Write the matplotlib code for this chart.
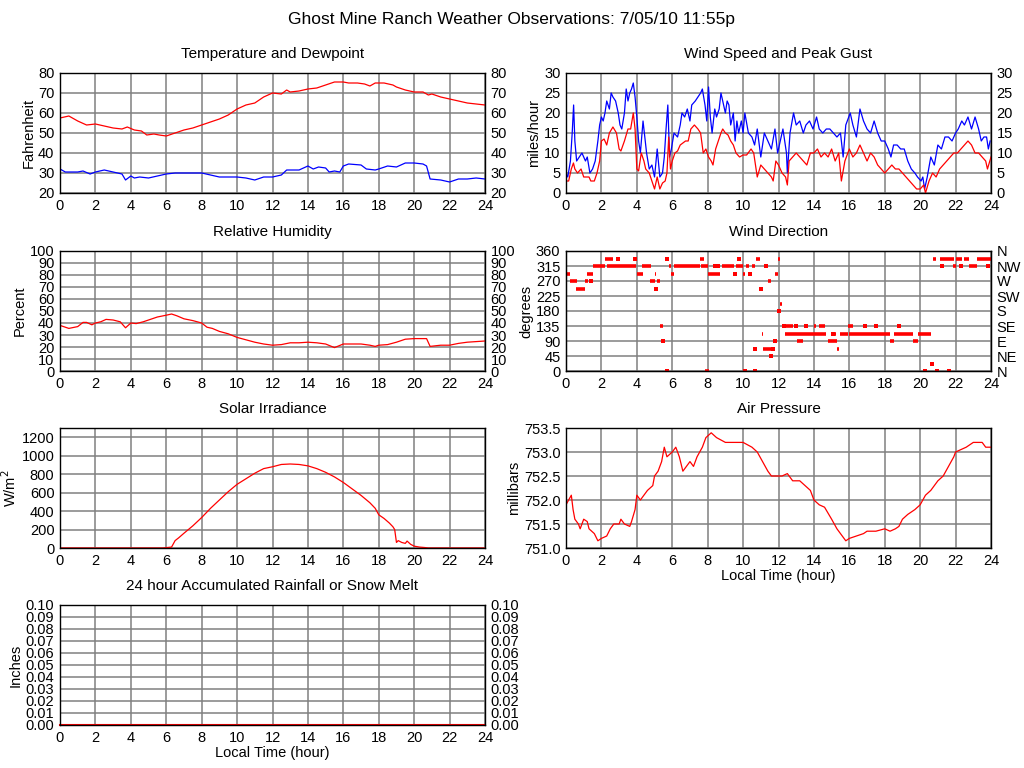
import numpy as np
import matplotlib
matplotlib.use("Agg")
import matplotlib.pyplot as plt

plt.rcParams['font.family'] = ['Liberation Sans', 'DejaVu Sans']
plt.rcParams['font.size'] = 10.5

hours = [0, 2, 4, 6, 8, 10, 12, 14, 16, 18, 20, 22, 24]

# temperature / dewpoint (F)
temp_t = [0, 0.5, 1.0, 1.5, 2.0, 2.5, 3.0, 3.5, 3.8, 4.2, 4.6, 4.9, 5.3, 5.6, 6.0, 6.5, 7.0, 7.5,
          8.0, 8.5, 9.0, 9.5, 10.0, 10.5, 11.0, 11.5, 12.0, 12.5, 12.8, 13.0, 13.5, 14.0, 14.5,
          15.0, 15.5, 16.0, 16.3, 16.8, 17.2, 17.5, 17.8, 18.3, 18.8, 19.0, 19.5, 20.0, 20.5,
          20.8, 21.0, 21.5, 22.0, 22.5, 23.0, 23.5, 24.0]
temp_v = [57.5, 58.5, 56, 54, 54.5, 53.5, 52.5, 52, 53, 51.5, 51, 49, 49.5, 49, 48.5, 50, 51.5, 52.5,
          54, 55.5, 57, 59, 62, 64, 65, 68, 70, 69.5, 71.5, 70.5, 71, 72, 72.5,
          74, 75.5, 75.5, 75, 75, 74.5, 73.5, 75, 75, 74, 73, 71.5, 70.5, 70.5,
          69, 69.5, 68, 67, 66, 65, 64.5, 64]
dew_t = [0, 0.3, 1.0, 1.3, 1.7, 2.0, 2.5, 3.0, 3.5, 3.7, 4.0, 4.2, 4.5, 5.0, 5.5, 6.0, 6.5, 7.0,
         7.5, 8.0, 8.5, 9.0, 9.5, 10.0, 10.5, 11.0, 11.5, 12.0, 12.5, 12.8, 13.5, 14.0, 14.3,
         14.6, 15.0, 15.2, 15.5, 15.8, 16.0, 16.3, 17.0, 17.3, 17.8, 18.0, 18.5, 19.0, 19.5,
         20.0, 20.5, 20.7, 20.9, 21.5, 22.0, 22.5, 23.0, 23.5, 24.0]
dew_v = [32, 30.5, 30.5, 31, 29.5, 30.5, 31.5, 30.5, 29.5, 26.5, 28.5, 27.5, 28, 27.5, 28.5, 29.5, 30, 30,
         30, 30, 29, 28, 28, 28, 27.5, 26.5, 28, 28, 29, 31.5, 31.5, 33.5, 32,
         33, 32.5, 30.5, 31, 30.5, 33.5, 34.5, 34, 32, 31.5, 32, 33.5, 33, 35,
         35, 34.5, 33.5, 27, 26.5, 25.5, 27, 27, 27.5, 27]

# wind (mph)
gust_t = [0.0, 0.1, 0.25, 0.35, 0.43, 0.5, 0.6, 0.75, 0.9, 1.0, 1.1, 1.2, 1.35, 1.5, 1.65, 1.8, 1.9,
          2.0, 2.1, 2.2, 2.3, 2.45, 2.55, 2.65, 2.8, 2.95, 3.05, 3.15, 3.3, 3.4, 3.5, 3.6, 3.7, 3.8,
          3.9, 4.0, 4.1, 4.2, 4.35, 4.45, 4.55, 4.7, 4.85, 5.0, 5.15, 5.3, 5.45, 5.55, 5.65, 5.75,
          5.85, 5.95, 6.1, 6.3, 6.45, 6.55, 6.7, 6.85, 7.0, 7.1, 7.3, 7.45, 7.6, 7.7, 7.85, 7.95,
          8.05, 8.15, 8.25, 8.4, 8.5, 8.65, 8.75, 8.9, 9.0, 9.1, 9.2, 9.3, 9.45, 9.55, 9.65, 9.75,
          9.9, 10.0, 10.1, 10.3, 10.5, 10.65, 10.8, 11.0, 11.2, 11.4, 11.6, 11.8, 11.95, 12.05,
          12.25, 12.45, 12.5, 12.65, 12.85, 13.0, 13.2, 13.4, 13.55, 13.75, 13.95, 14.15, 14.3,
          14.5, 14.7, 14.9, 15.1, 15.3, 15.5, 15.65, 15.8, 16.05, 16.2, 16.4, 16.6, 16.8, 17.0,
          17.2, 17.4, 17.6, 17.8, 18.0, 18.2, 18.35, 18.5, 18.7, 18.9, 19.1, 19.3, 19.5, 19.7,
          19.85, 20.05, 20.15, 20.25, 20.4, 20.6, 20.8, 21.0, 21.2, 21.4, 21.6, 21.8, 22.0, 22.15,
          22.35, 22.5, 22.7, 22.9, 23.1, 23.3, 23.45, 23.6, 23.75, 23.85, 23.95]
gust_v = [5, 4, 8, 15, 22, 13, 8, 9, 10, 9, 8, 9, 5, 6, 8, 13, 17,
          19, 18, 20, 23, 21, 25, 24, 23, 20, 17, 16, 20, 26, 23, 25, 26, 27.5,
          24, 19, 13, 10, 18, 14, 10, 6, 7, 4, 11, 4, 5, 9, 16, 22,
          9, 11, 15, 14, 17, 20, 19, 21, 18, 22, 23, 24, 25, 26, 22, 18,
          26.5, 19, 15, 21, 19, 21, 25, 22, 20, 23, 22, 17, 20, 13, 18, 15,
          18, 15, 20, 15, 14, 12, 16, 9, 15, 13, 11, 16, 10, 12,
          16, 10, 5, 15, 20, 17, 18, 15, 17, 18, 16, 19, 16,
          15, 16, 16, 15, 14, 15, 9, 17, 20, 17, 14, 21, 18, 16,
          15, 18, 15, 13, 13, 11, 9, 12, 12, 11, 11, 8, 6, 5,
          4, 3, 4, 1, 4, 9, 7, 12, 11, 14, 14, 13, 15, 16,
          18, 17, 19, 16, 19, 16, 13, 14, 14, 11, 13]
speed_t = [0.0, 0.15, 0.3, 0.42, 0.5, 0.65, 0.85, 1.0, 1.3, 1.4, 1.6, 1.75, 1.9, 2.0, 2.15, 2.3,
           2.45, 2.65, 2.85, 3.0, 3.1, 3.3, 3.5, 3.65, 3.8, 3.9, 4.0, 4.1, 4.25, 4.4, 4.5, 4.7,
           4.85, 5.0, 5.15, 5.3, 5.45, 5.6, 5.7, 5.8, 5.9, 6.0, 6.15, 6.3, 6.45, 6.6, 6.75, 6.9,
           7.05, 7.25, 7.45, 7.6, 7.75, 7.9, 8.05, 8.2, 8.3, 8.45, 8.6, 8.75, 8.85, 9.0, 9.15,
           9.3, 9.45, 9.6, 9.8, 10.0, 10.2, 10.45, 10.6, 10.7, 10.8, 11.0, 11.2, 11.4, 11.6, 11.7,
           11.85, 12.0, 12.2, 12.4, 12.5, 12.6, 12.8, 13.0, 13.2, 13.4, 13.6, 13.8, 14.0, 14.2,
           14.4, 14.6, 14.8, 15.0, 15.2, 15.4, 15.55, 15.75, 16.0, 16.2, 16.4, 16.6, 16.8, 17.0,
           17.2, 17.4, 17.6, 17.8, 18.0, 18.2, 18.4, 18.6, 18.8, 19.0, 19.2, 19.4, 19.6, 19.8,
           20.0, 20.2, 20.3, 20.5, 20.7, 20.9, 21.1, 21.3, 21.5, 21.7, 21.9, 22.1, 22.3, 22.5,
           22.7, 22.9, 23.1, 23.3, 23.5, 23.7, 23.8, 24.0]
speed_v = [3, 3, 6, 7.5, 6, 5, 6, 4, 4, 3, 3, 5, 8, 13, 13.5, 12,
           15, 16.5, 15, 11, 10.5, 13, 16, 16, 20, 16, 6, 5.5, 10, 8, 6, 5,
           3, 1, 4, 1, 2.5, 3, 5, 14, 6, 8, 10, 10.5, 12, 12.5, 13, 13,
           16, 17, 16, 15, 10, 11, 9, 8, 7, 11, 13, 15, 16, 15, 14.5,
           13, 12, 10, 9, 9.5, 9.5, 11, 10, 7, 4, 7, 6, 5, 4, 3,
           8, 7, 5, 4, 2, 8, 9, 10, 9, 8, 7, 10, 10, 11,
           9, 10, 9, 11, 8, 10, 3, 8, 11, 9, 10, 12, 10, 8,
           10, 9, 7, 6, 5, 6, 7, 6, 6, 5, 4, 3, 2, 1,
           1, 2, 0, 3, 5, 4, 6, 7, 8, 9, 10, 10, 11, 12,
           13, 12, 10, 10, 9, 8, 6, 9]

# relative humidity (%)
rh_t = [0, 0.5, 1.0, 1.3, 1.5, 1.8, 2.0, 2.3, 2.6, 3.0, 3.4, 3.7, 4.0, 4.3, 4.7, 5.0, 5.5, 6.0,
        6.3, 6.6, 7.0, 7.5, 8.0, 8.3, 8.6, 9.0, 9.5, 10.0, 10.5, 11.0, 11.5, 12.0, 12.5, 13.0,
        13.5, 14.0, 14.5, 15.0, 15.5, 16.0, 16.5, 17.0, 17.5, 17.8, 18.0, 18.5, 19.0, 19.5,
        20.0, 20.5, 20.7, 20.9, 21.5, 22.0, 22.5, 23.0, 23.5, 24.0]
rh_v = [38, 35.5, 37, 40.5, 40.5, 38.5, 40, 41, 43, 42.5, 41, 36, 40, 39.5, 41, 42.5, 45, 46.5,
        47.5, 46, 43.5, 42, 40, 36.5, 35.5, 33, 31, 28, 26, 24, 22.5, 21.5, 22, 23.5,
        23.5, 24, 23.5, 22.5, 19.5, 22.5, 22.5, 22.5, 21.5, 20.5, 21.5, 22, 24, 26.5,
        27, 27, 27, 20.5, 21.5, 21.5, 23, 24, 24.5, 25]

# wind direction (deg): runs and single readings
run_start = [0.0, 0.2, 0.55, 1.05, 1.2, 1.55, 2.2, 2.3, 4.0, 4.3, 4.75, 5.0, 5.15, 5.3, 5.8,
             5.95, 6.1, 7.55, 7.6, 7.85, 8.0, 8.8, 9.6, 10.0, 10.15, 10.5, 10.75, 11.05, 11.1,
             11.4, 11.8, 11.95, 12.1, 12.35, 12.4, 13.05, 13.3, 14.0, 14.3, 14.2, 14.8, 15.2,
             15.3, 15.5, 15.9, 16.0, 17.5, 18.3, 18.5, 18.9, 19.6, 19.9, 20.75, 21.1, 21.85,
             22.0, 22.5, 22.75, 23.2]
run_end = [0.2, 0.6, 1.05, 1.25, 1.55, 2.2, 2.65, 3.95, 4.35, 4.8, 5.0, 5.1, 5.3, 5.5, 5.95,
           6.1, 7.55, 7.8, 8.0, 8.1, 8.7, 9.5, 10.0, 10.1, 10.35, 10.65, 10.95, 11.15, 11.6,
           11.55, 11.95, 12.1, 12.2, 13.3, 12.8, 13.4, 14.2, 14.1, 14.6, 14.7, 15.3, 15.25,
           15.4, 15.9, 16.2, 17.5, 18.3, 18.5, 18.9, 19.6, 19.9, 20.6, 20.9, 21.9, 22.0,
           22.35, 22.75, 23.2, 24.0]
run_dir = [292.5, 270, 247.5, 270, 292.5, 315, 337.5, 315, 292.5, 315, 270, 292.5, 270, 135, 315,
           292.5, 315, 337.5, 315, 0, 292.5, 315, 315, 292.5, 315, 315, 337.5, 112.5, 67.5,
           270, 292.5, 337.5, 202.5, 112.5, 135, 90, 112.5, 135, 135, 112.5, 90, 112.5,
           67.5, 112.5, 135, 112.5, 112.5, 90, 112.5, 112.5, 90, 112.5, 337.5, 337.5, 315,
           337.5, 337.5, 315, 337.5]
pt_t = [1.4, 2.95, 3.9, 5.1, 5.5, 5.7, 5.7, 8.4, 8.6, 9.55, 9.75, 10.1, 10.4, 10.65, 10.7,
        11.0, 11.3, 11.55, 11.7, 11.8, 12.05, 12.3, 13.0, 13.55, 15.1, 16.9, 17.5, 18.8,
        20.3, 20.65, 20.95, 21.25, 21.6, 22.3, 23.85]
pt_dir = [270, 337.5, 337.5, 247.5, 90, 337.5, 0, 315, 315, 292.5, 337.5, 0, 292.5, 67.5, 0,
          247.5, 315, 45, 67.5, 90, 180, 135, 135, 135, 112.5, 135, 135, 135,
          0, 22.5, 0, 315, 0, 315, 315]
compass = ['N', 'NE', 'E', 'SE', 'S', 'SW', 'W', 'NW', 'N']

# solar irradiance (W/m^2)
sun_t = [0, 5.8, 6.3, 6.5, 6.7, 7.0, 7.5, 8.0, 8.5, 9.0, 9.5, 10.0, 10.5, 11.0, 11.5, 12.0, 12.5,
         13.0, 13.5, 14.0, 14.5, 15.0, 15.5, 16.0, 16.5, 17.0, 17.5, 17.8, 18.0, 18.3, 18.6, 18.8,
         18.9, 19.0, 19.1, 19.3, 19.5, 19.6, 19.8, 20.0, 20.3, 20.6, 20.8, 24]
sun_v = [0, 0, 10, 80, 110, 160, 240, 330, 430, 520, 610, 690, 750, 810, 860, 880, 905,
         910, 905, 890, 860, 820, 770, 710, 640, 570, 490, 430, 360, 320, 270, 230,
         200, 60, 80, 60, 50, 75, 40, 20, 10, 5, 0, 0]

# air pressure (mbar)
pres_t = [0, 0.15, 0.3, 0.4, 0.5, 0.7, 0.8, 1.0, 1.2, 1.3, 1.6, 1.8, 2.0, 2.3, 2.5, 2.7, 3.0, 3.1,
          3.3, 3.6, 3.7, 3.9, 4.0, 4.2, 4.4, 4.6, 4.9, 5.0, 5.2, 5.4, 5.55, 5.7, 6.0, 6.2, 6.4,
          6.6, 6.8, 7.0, 7.2, 7.4, 7.7, 7.9, 8.2, 8.5, 9.0, 9.5, 10.0, 10.5, 10.8, 11.1, 11.4,
          11.6, 12.0, 12.2, 12.5, 12.8, 13.2, 13.5, 13.8, 14.0, 14.3, 14.6, 15.0, 15.3, 15.6,
          15.8, 16.0, 16.4, 16.8, 17.0, 17.5, 18.0, 18.3, 18.6, 18.8, 19.0, 19.3, 19.7, 20.0,
          20.3, 20.6, 21.0, 21.3, 21.6, 21.9, 22.0, 22.3, 22.6, 22.8, 23.0, 23.5, 23.7, 24]
pres_v = [751.9, 752.0, 752.1, 751.8, 751.6, 751.5, 751.4, 751.6, 751.55, 751.4, 751.3, 751.15,
          751.2, 751.25, 751.4, 751.5, 751.5, 751.6, 751.5, 751.45, 751.55, 751.8, 752.1, 752.0,
          752.1, 752.2, 752.3, 752.5, 752.6, 752.8, 753.1, 752.9, 753.0, 753.1, 752.9, 752.6,
          752.7, 752.8, 752.7, 752.9, 753.1, 753.3, 753.4, 753.3, 753.2, 753.2, 753.2, 753.1,
          753.0, 752.8, 752.6, 752.5, 752.5, 752.5, 752.55, 752.4, 752.4, 752.3, 752.2, 752.0,
          751.9, 751.85, 751.6, 751.4, 751.25, 751.15, 751.2, 751.25, 751.3, 751.35, 751.35,
          751.4, 751.35, 751.4, 751.45, 751.6, 751.7, 751.8, 751.9, 752.1, 752.2, 752.4, 752.5,
          752.7, 752.9, 753.0, 753.05, 753.1, 753.15, 753.2, 753.2, 753.1, 753.1]

# rainfall (in)
rain_t = [0, 24]
rain_v = [0.0, 0.0]

fig = plt.figure(figsize=(10.24, 7.68), dpi=100)
fig.suptitle('Ghost Mine Ranch Weather Observations: 7/05/10 11:55p', y=0.985, fontsize=12.5)

lx, rx, w, h = 60 / 1024, 566 / 1024, 425 / 1024, 120 / 768
rows = [1 - 193 / 768, 1 - 371 / 768, 1 - 548 / 768, 1 - 725 / 768]


def panel(x0, y0, title, ylabel, ylim, yticks, right=True, yfmt=None):
    ax = fig.add_axes([x0, y0, w, h])
    ax.set_xlim(0, 24)
    ax.set_ylim(*ylim)
    ax.set_xticks(hours)
    ax.set_yticks(yticks)
    if yfmt:
        ax.set_yticklabels([yfmt.format(v) for v in yticks])
    ax.grid(True, color='#808080', lw=1.1)
    ax.set_axisbelow(True)
    ax.tick_params(length=0, pad=4, labelright=right)
    ax.set_title(title, pad=11, fontsize=11)
    ax.set_ylabel(ylabel, labelpad=2)
    for s in ax.spines.values():
        s.set_linewidth(1.0)
    return ax


ax = panel(lx, rows[0], 'Temperature and Dewpoint', 'Fahrenheit', (20, 80), range(20, 81, 10))
ax.plot(temp_t, temp_v, color='red', lw=0.9)
ax.plot(dew_t, dew_v, color='blue', lw=0.9)

ax = panel(rx, rows[0], 'Wind Speed and Peak Gust', 'miles/hour', (0, 30), range(0, 31, 5))
ax.plot(gust_t, gust_v, color='blue', lw=0.9)
ax.plot(speed_t, speed_v, color='red', lw=0.9)

ax = panel(lx, rows[1], 'Relative Humidity', 'Percent', (0, 100), range(0, 101, 10))
ax.plot(rh_t, rh_v, color='red', lw=0.9)

ax = panel(rx, rows[1], 'Wind Direction', 'degrees', (0, 360), range(0, 361, 45), right=False)
ax.hlines(run_dir, run_start, run_end, color='red', lw=2.6)
ax.scatter(pt_t, pt_dir, marker='s', s=5, color='red', lw=0)
ax2 = ax.twinx()
ax2.set_ylim(0, 360)
ax2.set_yticks(range(0, 361, 45))
ax2.set_yticklabels(compass)
ax2.tick_params(length=0, pad=4)

ax = panel(lx, rows[2], 'Solar Irradiance', 'W/m$^2$', (0, 1300), range(0, 1201, 200), right=False)
ax.plot(sun_t, sun_v, color='red', lw=0.9)

ax = panel(rx, rows[2], 'Air Pressure', 'millibars', (751.0, 753.5),
           [751.0, 751.5, 752.0, 752.5, 753.0, 753.5], right=False, yfmt='{:.1f}')
ax.plot(pres_t, pres_v, color='red', lw=0.9)
ax.set_xlabel('Local Time (hour)', labelpad=1)

ax = panel(lx, rows[3], '24 hour Accumulated Rainfall or Snow Melt', 'Inches', (0, 0.1),
           np.arange(11) / 100, yfmt='{:.2f}')
ax.plot(rain_t, rain_v, color='red', lw=1.5, clip_on=False)
ax.set_xlabel('Local Time (hour)', labelpad=1)

fig.savefig('out.png', dpi=100)
